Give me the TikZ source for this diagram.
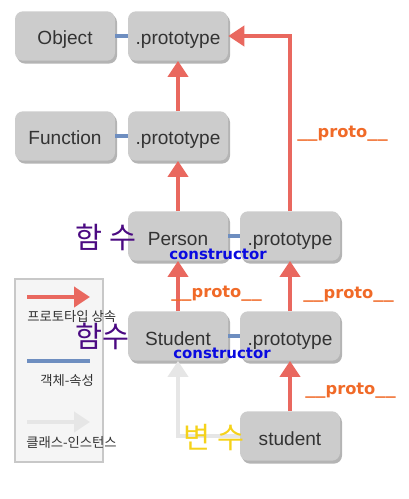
\documentclass[tikz,border=0pt]{standalone}
\usepackage{fontspec}
\usepackage{graphicx}
\setmainfont{Liberation Sans}
\newfontfamily\krfont{Noto Sans CJK KR}
\newfontfamily\boldfont{DejaVu Sans}
\usetikzlibrary{arrows.meta,shadows}
\definecolor{boxfill}{HTML}{CCCCCC}
\definecolor{boxshade}{HTML}{B4B4B4}
\definecolor{protored}{HTML}{E9685F}
\definecolor{propblue}{HTML}{6E8EC0}
\definecolor{classgrey}{HTML}{E6E6E6}
\definecolor{labelorange}{HTML}{F06A28}
\definecolor{ctorblue}{HTML}{0A0AE0}
\definecolor{funcpurple}{HTML}{4B0A82}
\definecolor{varyellow}{HTML}{F5D21A}
\definecolor{txtdark}{HTML}{333333}
\definecolor{legfill}{HTML}{F5F5F5}
\definecolor{legborder}{HTML}{C8C8C8}
\newcommand\wideus{\scalebox{1.25}[1]{\_}}
\newcommand\protoword{\wideus\wideus proto\wideus\wideus}
\tikzset{
  objbox/.style={rectangle, rounded corners=6pt, fill=boxfill, text=txtdark,
    minimum width=75pt, minimum height=37pt, inner sep=0pt,
    text height=13.8pt, text depth=0.3pt,
    font=\fontsize{14.3}{16}\selectfont,
    general shadow={shadow xshift=1.5pt, shadow yshift=-2.2pt, fill=boxshade}},
  protoarrow/.style={draw=protored, line width=3.3pt, -{Triangle[width=15pt,length=12pt]}},
  proparrow/.style={draw=propblue, line width=3pt},
  classarrow/.style={draw=classgrey, line width=3.3pt, -{Triangle[width=15pt,length=12pt]}},
  protolabel/.style={text=labelorange, font=\boldfont\bfseries\fontsize{12.2}{14}\selectfont, inner sep=0pt, anchor=west},
  ctorlabel/.style={text=ctorblue, font=\boldfont\bfseries\fontsize{11.2}{13}\selectfont, inner sep=0pt},
  funclabel/.style={text=funcpurple, font=\krfont\fontsize{22}{24}\selectfont, inner sep=0pt},
  varlabel/.style={text=varyellow, font=\krfont\fontsize{22}{24}\selectfont, inner sep=0pt},
  leglabel/.style={text=txtdark, font=\krfont\fontsize{10}{12}\selectfont, inner sep=0pt, anchor=west},
}
\begin{document}
\begin{tikzpicture}[x=0.75pt,y=-0.75pt]
\useasboundingbox (0,0) rectangle (408,499);
% legend box
\node[draw=legborder, line width=1.5pt, fill=legfill, minimum width=66pt, minimum height=137pt, inner sep=0pt] (legend) at (58.5,370.5) {};
% boxes
\node[objbox] (object) at (65,36) {Object};
\node[objbox] (op) at (178,36) {.prototype};
\node[objbox] (function) at (65,136) {Function};
\node[objbox] (fp) at (178,136) {.prototype};
\node[objbox] (person) at (178,236) {Person};
\node[objbox] (pp) at (290,236) {.prototype};
\node[objbox] (student) at (178,336) {Student};
\node[objbox] (sp) at (290,336) {.prototype};
\node[objbox] (stu) at (290,436) {student};
% property lines
\draw[proparrow] (object.east) -- (op.west);
\draw[proparrow] (function.east) -- (fp.west);
\draw[proparrow] (person.east) -- (pp.west);
\draw[proparrow] (student.east) -- (sp.west);
% prototype arrows
\draw[protoarrow] (fp.north) -- (op.south);
\draw[protoarrow] (person.north) -- (fp.south);
\draw[protoarrow] (pp.north) |- (op.east);
\draw[protoarrow] (student.north) -- (person.south);
\draw[protoarrow] (sp.north) -- (pp.south);
\draw[protoarrow] (stu.north) -- (sp.south);
% class-instance arrow
\draw[classarrow] (stu.west) -| (student.south);
% labels
\node[protolabel] (l1) at (297,134) {\protoword};
\node[protolabel] (l2) at (171,294) {\protoword};
\node[protolabel] (l3) at (303,295) {\protoword};
\node[protolabel] (l4) at (305,391) {\protoword};
\node[ctorlabel] (c1) at (218,254) {constructor};
\node[ctorlabel] (c2) at (222,353) {constructor};
\node[funclabel] (f1) at (106,237) {함 수};
\node[funclabel] (f2) at (102,336) {함수};
\node[varlabel] (v1) at (214,438) {변 수};
% legend contents
\coordinate (a1) at (27,297); \coordinate (a2) at (90,297);
\coordinate (b1) at (27,361); \coordinate (b2) at (90,361);
\coordinate (g1) at (27,422); \coordinate (g2) at (90,422);
\draw[protoarrow] (a1) -- (a2);
\draw[proparrow] (b1) -- (b2);
\draw[classarrow] (g1) -- (g2);
\node[leglabel] (t1) at (27,317) {프로토타입 상속};
\node[leglabel] (t2) at (40,381) {객체-속성};
\node[leglabel] (t3) at (26,443) {클래스-인스턴스};
\end{tikzpicture}
\end{document}
